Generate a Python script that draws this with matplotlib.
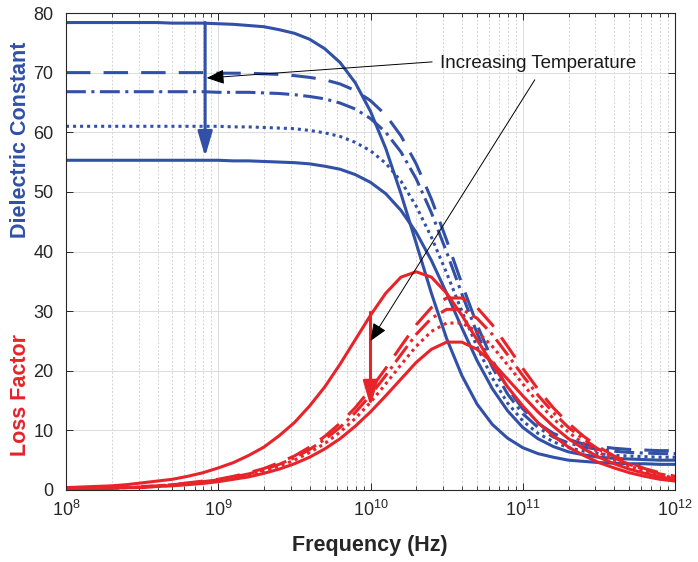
import numpy as np
import matplotlib
matplotlib.use('Agg')
import matplotlib.pyplot as plt
from matplotlib.ticker import LogLocator, NullFormatter

plt.rcParams['font.family'] = ['Liberation Sans', 'DejaVu Sans']
plt.rcParams['mathtext.default'] = 'regular'

# frequency samples, log10(Hz)
log_freq = [8.0, 8.1, 8.2, 8.3, 8.4, 8.5, 8.6, 8.7, 8.8, 8.9,
            9.0, 9.1, 9.2, 9.3, 9.4, 9.5, 9.6, 9.7, 9.8, 9.9,
            10.0, 10.1, 10.2, 10.3, 10.4, 10.5, 10.6, 10.7, 10.8, 10.9,
            11.0, 11.1, 11.2, 11.3, 11.4, 11.5, 11.6, 11.7, 11.8, 11.9,
            12.0]

# dielectric constant, lowest to highest temperature
eps_1 = [78.4, 78.4, 78.4, 78.4, 78.4, 78.4, 78.4, 78.3, 78.3, 78.3,
         78.2, 78.1, 77.9, 77.7, 77.2, 76.6, 75.6, 74.0, 71.7, 68.3,
         63.5, 57.3, 49.7, 41.4, 33.0, 25.4, 19.2, 14.4, 11.0, 8.7,
         7.1, 6.1, 5.5, 5.0, 4.8, 4.6, 4.5, 4.4, 4.4, 4.3,
         4.3]
eps_2 = [70.0, 70.0, 70.0, 70.0, 70.0, 70.0, 70.0, 70.0, 70.0, 70.0,
         69.9, 69.9, 69.9, 69.8, 69.7, 69.5, 69.2, 68.8, 68.1, 67.0,
         65.3, 62.9, 59.4, 54.7, 48.8, 41.9, 34.6, 27.7, 21.8, 17.1,
         13.6, 11.2, 9.5, 8.5, 7.7, 7.3, 7.0, 6.8, 6.7, 6.6,
         6.6]
eps_3 = [66.8, 66.8, 66.8, 66.8, 66.8, 66.8, 66.8, 66.8, 66.8, 66.8,
         66.7, 66.7, 66.7, 66.6, 66.5, 66.3, 66.0, 65.6, 64.9, 63.9,
         62.3, 60.0, 56.7, 52.2, 46.5, 39.9, 32.9, 26.3, 20.6, 16.1,
         12.8, 10.5, 8.9, 7.9, 7.2, 6.8, 6.5, 6.3, 6.2, 6.1,
         6.1]
eps_4 = [61.0, 61.0, 61.0, 61.0, 61.0, 61.0, 61.0, 61.0, 61.0, 61.0,
         61.0, 60.9, 60.9, 60.8, 60.7, 60.6, 60.3, 59.9, 59.3, 58.3,
         56.9, 54.8, 51.8, 47.6, 42.4, 36.4, 30.0, 24.0, 18.8, 14.6,
         11.6, 9.5, 8.1, 7.1, 6.5, 6.1, 5.8, 5.7, 5.6, 5.5,
         5.5]
eps_5 = [55.3, 55.3, 55.3, 55.3, 55.3, 55.3, 55.3, 55.3, 55.3, 55.3,
         55.3, 55.2, 55.2, 55.1, 55.0, 54.9, 54.7, 54.3, 53.8, 52.9,
         51.6, 49.7, 46.9, 43.2, 38.5, 33.0, 27.2, 21.7, 17.0, 13.3,
         10.5, 8.6, 7.3, 6.4, 5.9, 5.5, 5.3, 5.2, 5.1, 5.0,
         5.0]

# loss factor, same order
loss_1 = [0.4, 0.5, 0.6, 0.7, 0.9, 1.2, 1.5, 1.8, 2.3, 2.9,
          3.7, 4.6, 5.8, 7.2, 9.1, 11.3, 14.1, 17.3, 21.1, 25.2,
          29.3, 33.0, 35.7, 36.6, 35.7, 33.0, 29.3, 25.2, 21.1, 17.3,
          14.1, 11.3, 9.1, 7.2, 5.8, 4.6, 3.7, 2.9, 2.3, 1.8,
          1.5]
loss_2 = [0.2, 0.2, 0.3, 0.4, 0.5, 0.6, 0.7, 0.9, 1.2, 1.5,
          1.8, 2.3, 2.9, 3.6, 4.6, 5.7, 7.2, 9.0, 11.2, 13.8,
          16.9, 20.4, 24.1, 27.7, 30.6, 32.2, 32.2, 30.6, 27.7, 24.1,
          20.4, 16.9, 13.8, 11.2, 9.0, 7.2, 5.7, 4.6, 3.6, 2.9,
          2.3]
loss_3 = [0.2, 0.2, 0.3, 0.3, 0.4, 0.5, 0.7, 0.9, 1.1, 1.4,
          1.7, 2.2, 2.7, 3.4, 4.3, 5.4, 6.8, 8.5, 10.5, 13.0,
          15.9, 19.2, 22.7, 26.1, 28.8, 30.3, 30.3, 28.8, 26.1, 22.7,
          19.2, 15.9, 13.0, 10.5, 8.5, 6.8, 5.4, 4.3, 3.4, 2.7,
          2.2]
loss_4 = [0.2, 0.2, 0.3, 0.3, 0.4, 0.5, 0.6, 0.8, 1.0, 1.3,
          1.6, 2.0, 2.5, 3.2, 4.0, 5.0, 6.3, 7.8, 9.7, 12.0,
          14.7, 17.8, 21.0, 24.1, 26.6, 28.0, 28.0, 26.6, 24.1, 21.0,
          17.8, 14.7, 12.0, 9.7, 7.8, 6.3, 5.0, 4.0, 3.2, 2.5,
          2.0]
loss_5 = [0.1, 0.2, 0.2, 0.3, 0.4, 0.4, 0.6, 0.7, 0.9, 1.1,
          1.4, 1.8, 2.2, 2.8, 3.5, 4.4, 5.5, 6.9, 8.6, 10.7,
          13.1, 15.8, 18.6, 21.4, 23.6, 24.8, 24.8, 23.6, 21.4, 18.6,
          15.8, 13.1, 10.7, 8.6, 6.9, 5.5, 4.4, 3.5, 2.8, 2.2,
          1.8]

freq = 10.0 ** np.array(log_freq)

blue = '#3150a6'
red = '#e8232a'
dark = '#262626'
lw = 2.2

# solid, dashed, dash-dot, dotted, solid
styles = [dict(ls='-'),
          dict(dashes=(8, 4.3)),
          dict(dashes=(6.5, 1.8, 1.0, 1.8)),
          dict(dashes=(1.0, 1.3)),
          dict(ls='-')]

fig = plt.figure(figsize=(6.98, 5.62), dpi=100)
ax = fig.add_axes([66 / 698, 72 / 562, 609 / 698, 477 / 562])

for eps, st in zip([eps_1, eps_2, eps_3, eps_4, eps_5], styles):
    ax.plot(freq, eps, color=blue, lw=lw, **st)
for loss, st in zip([loss_1, loss_2, loss_3, loss_4, loss_5], styles):
    ax.plot(freq, loss, color=red, lw=lw, **st)

ax.set_xscale('log')
ax.set_xlim(1e8, 1e12)
ax.set_ylim(0, 80)
ax.set_yticks(range(0, 81, 10))
ax.xaxis.set_minor_locator(LogLocator(base=10, subs=np.arange(2, 10), numticks=20))
ax.xaxis.set_minor_formatter(NullFormatter())

ax.grid(which='major', color='#dcdcdc', lw=0.7)
ax.grid(which='minor', axis='x', color='#cfcfcf', lw=0.6, ls=(0, (2.5, 2)))
ax.set_axisbelow(True)
ax.tick_params(which='both', direction='in', top=True, right=True,
               colors=dark, labelsize=13)
ax.tick_params(which='major', length=5, width=0.7)
ax.tick_params(which='minor', length=3, width=0.6)
ax.tick_params(axis='x', pad=7)
ax.tick_params(axis='y', pad=9)
for sp in ax.spines.values():
    sp.set_color(dark)
    sp.set_linewidth(0.8)

fig.text(0.03, 1 - 140 / 562, 'Dielectric Constant', rotation=90, color=blue,
         fontsize=15.5, fontweight='bold', ha='center', va='center')
fig.text(0.03, 1 - 395 / 562, 'Loss Factor', rotation=90, color=red,
         fontsize=15.5, fontweight='bold', ha='center', va='center')
fig.text(370 / 698, 1 - 545 / 562, 'Frequency (Hz)', color=dark,
         fontsize=15.5, fontweight='bold', ha='center', va='center')

# temperature arrows
ax.annotate('', xy=(8.2e8, 55.9), xytext=(8.2e8, 78.4),
            arrowprops=dict(arrowstyle='-|>,head_length=0.75,head_width=0.22',
                            color=blue, lw=lw, mutation_scale=20,
                            shrinkA=0, shrinkB=0))
ax.annotate('', xy=(1e10, 14.0), xytext=(1e10, 29.8),
            arrowprops=dict(arrowstyle='-|>,head_length=0.75,head_width=0.22',
                            color=red, lw=lw, mutation_scale=20,
                            shrinkA=0, shrinkB=0))

ax.text(2.87e10, 71.6, 'Increasing Temperature', fontsize=13.5, color='#1a1a1a',
        ha='left', va='center')
ax.annotate('', xy=(8.4e8, 69.1), xytext=(2.54e10, 71.8),
            arrowprops=dict(arrowstyle='-|>,head_length=0.6,head_width=0.25',
                            color='black', lw=0.7, mutation_scale=18,
                            shrinkA=0, shrinkB=0))
ax.annotate('', xy=(1.0e10, 25.0), xytext=(1.2e11, 68.8),
            arrowprops=dict(arrowstyle='-|>,head_length=0.6,head_width=0.25',
                            color='black', lw=0.7, mutation_scale=18,
                            shrinkA=0, shrinkB=0))

fig.savefig('out.png', dpi=100)
